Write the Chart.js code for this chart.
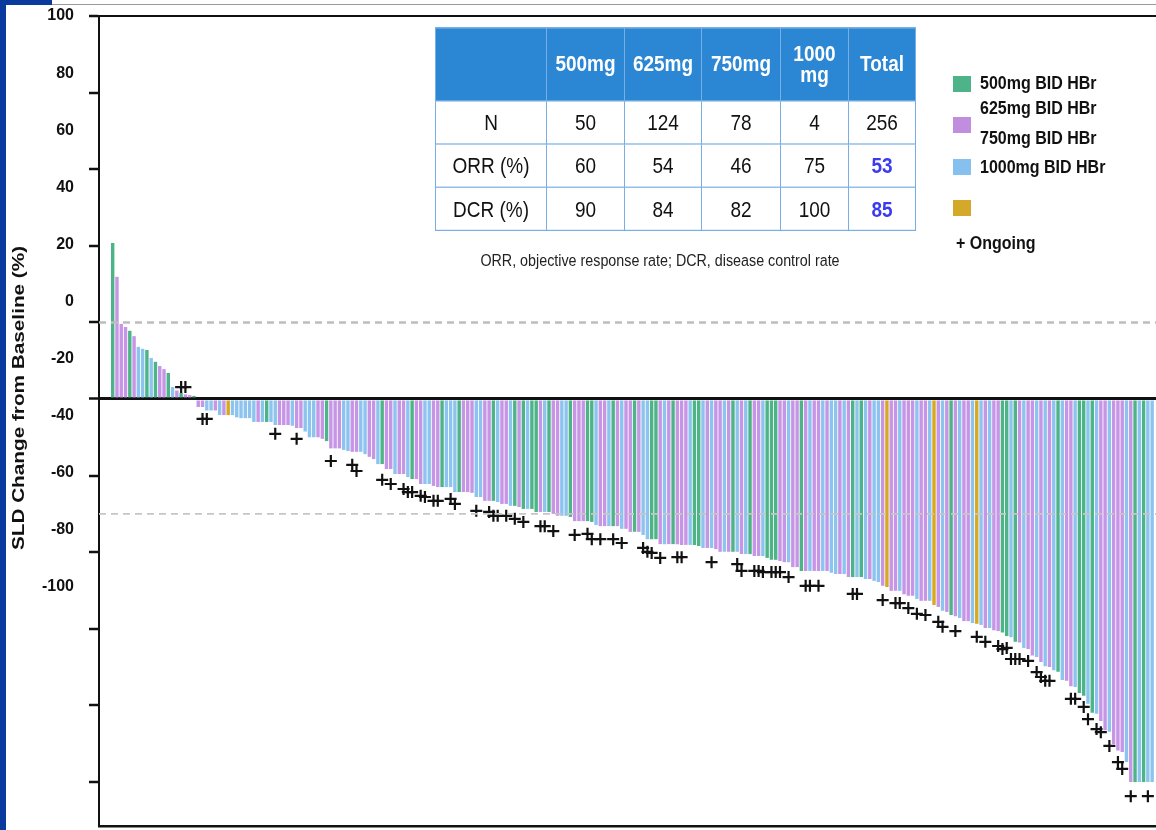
<!DOCTYPE html>
<html>
<head>
<meta charset="utf-8">
<title>SLD change waterfall</title>
<script src="https://cdn.jsdelivr.net/npm/chart.js@4.4.1/dist/chart.umd.min.js"></script>
<style>
    html, body { margin: 0; padding: 0; background: #fff; }
    #wrap {
        position: relative;
        width: 1156px;
        height: 830px;
        overflow: hidden;
        font-family: "Liberation Sans", Arial, Helvetica, sans-serif;
        color: #111;
    }
    #chart { position: absolute; left: 0; top: 0; }
    .frame-left { position: absolute; left: 0; top: 0; width: 6px; height: 830px; background: #0b3a9e; }
    .frame-top { position: absolute; left: 0; top: 0; width: 52px; height: 5px; background: #0b3a9e; }
    .frame-line { position: absolute; left: 52px; top: 4px; right: 0; height: 1px; background: #9a9a9a; }

    #stats {
        position: absolute;
        left: 435px;
        top: 27px;
        width: 480px;
        border-collapse: collapse;
        table-layout: fixed;
        transform: scaleY(1.2);
        transform-origin: 0 0;
    }
    #stats th, #stats td {
        border: 1.5px solid #78aee3;
        text-align: center;
        padding: 0;
        font-size: 19px;
    }
    #stats th {
        background: #2b86d4;
        color: #fff;
        font-weight: bold;
        height: 60px;
        line-height: 18px;
    }
    #stats td { height: 35px; background: #fff; }
    #stats td.total { color: #3a3af0; font-weight: bold; }

    .note {
        position: absolute;
        left: 360px;
        top: 252px;
        width: 600px;
        text-align: center;
        font-size: 14.3px;
        line-height: 16px;
        color: #222;
        transform: scaleY(1.2);
    }

    .swatch { position: absolute; left: 953px; width: 18px; height: 16px; }
    .legend-text {
        position: absolute;
        font-size: 16px;
        font-weight: bold;
        line-height: 16px;
        white-space: nowrap;
        transform: scaleY(1.2);
    }
</style>
</head>
<body>
<div id="wrap">
    <canvas id="chart" width="1156" height="830"></canvas>
    <div class="frame-left"></div>
    <div class="frame-top"></div>
    <div class="frame-line"></div>
    <table id="stats"></table>
    <div class="note">ORR, objective response rate; DCR, disease control rate</div>
    <div id="legend"></div>
</div>
<script>
// best percent change in sum of longest diameters, one bar per patient, sorted
const sldChange = [
    40.7, 31.9, 19.6, 18.8, 17.8, 16.4, 13.6, 13.1, 12.8, 10.7,
    9.7, 8.6, 7.8, 6.8, 3.1, 2.2, 1.6, 1.2, 1.0, 0.8,
    -2.1, -2.1, -3.0, -3.0, -3.0, -4.2, -4.2, -4.2, -4.2, -4.8,
    -5.0, -5.0, -5.0, -6.0, -6.0, -6.0, -6.0, -6.0, -6.8, -6.8,
    -6.8, -6.8, -7.0, -7.6, -7.6, -8.5, -10.0, -10.0, -10.0, -10.4,
    -11.0, -12.9, -12.9, -12.9, -13.3, -13.6, -13.8, -13.8,
    -13.8, -14.4, -15.1, -15.7, -17.0, -17.0, -18.3, -18.3, -19.6, -19.6,
    -19.6, -20.4, -20.9, -20.9, -22.2, -22.2, -22.2, -22.7, -23.0, -23.0,
    -23.0, -23.0, -24.3, -24.3, -24.3, -24.3, -24.5, -25.6, -25.6, -26.6,
    -26.6, -26.6, -26.9, -27.4, -27.4, -27.9, -27.9, -28.2,
    -28.7, -28.7, -28.7, -29.5, -29.5, -29.5, -29.5, -30.0, -30.5, -30.5,
    -30.5, -30.8, -31.9, -31.9, -31.9, -31.9, -32.1, -32.9, -33.2, -33.2,
    -33.2, -33.2, -33.2, -33.9, -33.9, -34.7, -34.7, -34.7, -35.5, -36.6,
    -36.6, -36.6, -37.9, -37.9, -37.9, -37.9, -37.9, -38.1, -38.1, -38.1,
    -38.1, -38.4, -38.9, -38.9, -38.9, -39.2, -39.9, -39.9, -39.9, -39.9,
    -39.9, -40.5, -40.5, -40.5, -41.0, -41.0, -41.0, -41.5, -42.0, -42.0,
    -42.3, -42.6, -42.6, -43.9, -43.9, -44.9, -44.9, -44.9, -44.9, -44.9,
    -44.9, -44.9, -45.4, -45.7, -45.7, -45.7, -46.5, -46.5, -46.5, -46.5,
    -47.0, -47.0, -47.5, -47.8, -48.8, -49.1, -50.1, -50.1, -50.1, -51.0,
    -51.4, -51.4, -52.2, -52.7, -52.7, -52.7, -53.8, -54.3, -55.3, -55.6,
    -56.4, -56.7, -57.2, -58.0, -58.0, -58.5, -58.7, -59.0, -59.8, -59.8,
    -60.4, -60.6, -61.0, -61.9, -62.2, -63.4, -63.6, -65.0, -65.3, -67.0,
    -67.4, -68.7, -69.8, -70.0, -70.8, -71.2, -73.4, -73.6, -75.0, -75.2,
    -76.8, -77.5, -79.6, -81.9, -82.2, -84.1, -86.5, -86.9, -90.1, -91.8,
    -92.2, -94.8, -100, -100, -100, -100, -100, -100,
];

// dose group of each bar: G 500mg, P 625mg, B 750mg, Y 1000mg
const doseCode = (
    'GPPPGPBBGBGPPGBPGPPG' +
    'PPBBPBPYBBBBBBPBGBBPPPBPPBBBPPGPPPBBPP' +
    'BBPPBGPPBPPBGPPBBPPGBBBGPPPBBPPGBPPBGP' +
    'GBGGPBGPPBBGPPPGGBPPBGPBPPGPBBGGPBPGPPPB' +
    'GGBPBPPBPGBPBGPPBGGGPPBPPGPBPPBPBBPBPGBG' +
    'BPBBPYPPBPPPBPPBYPBPGPBPPBYBPBPPGGBGPBPPBPBPBGBPPBGGBGBPPBPPPBPGBGBB'
).split('');

const doseColors = { G: '#4db487', P: '#c795e6', B: '#8cc4ef', Y: '#d6a91f' };

// ongoing patients: bar index and where the "+" sits
const ongoingBar = [
    16, 17, 21, 22, 38, 43, 51, 56, 57, 63, 65, 68, 69, 70, 72, 73, 75, 76, 79, 80,
    85, 88, 89, 90, 92, 94, 96, 100, 101, 103, 108, 111, 112, 114, 117, 119, 124, 125, 126, 128,
    132, 133, 140, 146, 147, 150, 151, 152, 154, 155, 156, 158, 162, 163, 165, 173, 174, 180, 183, 184,
    186, 188, 190, 193, 194, 197, 202, 204, 207, 208, 209, 210, 211, 212, 214, 216, 217, 218, 219, 224,
    225, 227, 228, 230, 231, 233, 235, 236, 238, 242,
];
const ongoingPct = [
    3.1, 3.1, -5.2, -5.2, -9.1, -10.4, -16.2, -17.2, -18.8, -21.1, -22.2, -23.5, -24.3, -24.3, -25.3, -25.6, -26.6, -26.6, -26.1, -27.4,
    -29.2, -29.5, -30.5, -30.5, -30.5, -31.3, -32.1, -33.2, -33.2, -34.5, -35.5, -35.2, -36.6, -36.6, -36.6, -37.6, -38.9, -39.9, -40.2, -41.5,
    -41.3, -41.3, -42.6, -43.1, -44.9, -44.9, -44.9, -45.2, -45.2, -45.2, -45.2, -46.5, -48.8, -48.8, -48.8, -50.9, -50.9, -52.5, -53.3, -53.3,
    -54.6, -56.1, -56.4, -58.2, -59.5, -60.6, -62.1, -63.4, -64.5, -65.3, -65.0, -67.9, -67.9, -67.9, -68.4, -71.3, -72.6, -73.6, -73.6, -78.3,
    -78.3, -80.4, -83.6, -86.2, -87.0, -90.6, -94.8, -96.6, -103.7, -103.7,
];

const yTicks = [100, 80, 60, 40, 20, 0, -20, -40, -60, -80, -100];
const refLines = [20, -30];

const doseHeaders = ['500mg', '625mg', '750mg', '1000<br>mg', 'Total'];
const nRow = [50, 124, 78, 4, 256];
const orrRow = [60, 54, 46, 75, 53];
const dcrRow = [90, 84, 82, 100, 85];

const legendItems = [
    { color: '#4fb389', label: '500mg BID HBr' },
    { color: '#c08ddf', label: '625mg BID HBr' },
    { color: '#86c0ee', label: '750mg BID HBr' },
    { color: '#d4a92a', label: '1000mg BID HBr' },
];

const FONT = '"Liberation Sans", Arial, Helvetica, sans-serif';
const xMin = -3.2;
const xMax = 243.9;

function buildTable() {
    const widths = [111, 78, 77, 79, 68, 67];
    let html = '<colgroup>' + widths.map((w) => `<col style="width:${w}px">`).join('') + '</colgroup>';

    html += '<tr><th></th>' + doseHeaders.map((h) => `<th>${h}</th>`).join('') + '</tr>';

    [['N', nRow], ['ORR (%)', orrRow], ['DCR (%)', dcrRow]].forEach(([name, row]) => {
        html += `<tr><td>${name}</td>`;
        row.forEach((v, k) => {
            const isTotal = k === row.length - 1 && name !== 'N';
            html += `<td${isTotal ? ' class="total"' : ''}>${v}</td>`;
        });
        html += '</tr>';
    });

    document.getElementById('stats').innerHTML = html;
}

function buildLegend() {
    const box = document.getElementById('legend');
    const swatchTops = [76, 117, 159, 200];
    const textCenters = [83, 108, 138, 167];
    let html = '';

    legendItems.forEach((item, k) => {
        html += `<div class="swatch" style="top:${swatchTops[k]}px;background:${item.color}"></div>`;
        html += `<div class="legend-text" style="left:980px;top:${textCenters[k] - 8}px">${item.label}</div>`;
    });

    html += '<div class="legend-text" style="left:956px;top:235px">+ Ongoing</div>';
    box.innerHTML = html;
}

// y-axis title, stretched like the picture
const axisTitle = {
    id: 'axisTitle',
    afterDraw(chart) {
        const { ctx } = chart;

        ctx.save();
        ctx.translate(19, 398);
        ctx.rotate(-Math.PI / 2);
        ctx.scale(1.22, 1);
        ctx.font = `bold 17px ${FONT}`;
        ctx.fillStyle = '#111';
        ctx.textAlign = 'center';
        ctx.textBaseline = 'middle';
        ctx.fillText('SLD Change from Baseline (%)', 0, 0);
        ctx.restore();
    },
};

function renderChart() {
    const refDatasets = refLines.map((v, k) => ({
        type: 'line',
        data: [{ x: xMin, y: v }, { x: xMax, y: v }],
        borderColor: k === 0 ? '#bdbdbd' : '#c6c6c6',
        borderWidth: k === 0 ? 2.5 : 1.6,
        borderDash: [7, 5],
        pointRadius: 0,
        order: 0,
    }));

    new Chart(document.getElementById('chart'), {
        type: 'bar',
        data: {
            datasets: [
                ...refDatasets,
                {
                    type: 'scatter',
                    data: ongoingBar.map((b, k) => ({ x: b, y: ongoingPct[k] })),
                    pointStyle: 'cross',
                    pointRadius: 6,
                    pointBorderWidth: 2.2,
                    borderColor: '#111',
                    pointBorderColor: '#111',
                    order: 1,
                },
                {
                    type: 'bar',
                    data: sldChange.map((v, i) => ({ x: i, y: v })),
                    backgroundColor: doseCode.map((c) => doseColors[c]),
                    borderWidth: 0,
                    barPercentage: 0.8,
                    categoryPercentage: 1,
                    order: 3,
                },
            ],
        },
        options: {
            responsive: false,
            animation: false,
            devicePixelRatio: 1,
            layout: { autoPadding: false, padding: { top: 16, left: 0, right: 0, bottom: 0 } },
            plugins: {
                legend: { display: false },
                tooltip: { enabled: false },
            },
            scales: {
                x: {
                    type: 'linear',
                    min: xMin,
                    max: xMax,
                    offset: false,
                    grid: { drawOnChartArea: false, drawTicks: false, offset: false },
                    border: { display: true, color: '#111', width: 2.5 },
                    ticks: { display: false },
                    afterFit: (s) => { s.height = 4; s.paddingLeft = 0; s.paddingRight = 0; },
                },
                xTop: {
                    type: 'linear',
                    position: 'top',
                    min: xMin,
                    max: xMax,
                    offset: false,
                    grid: { drawOnChartArea: false, drawTicks: false },
                    border: { display: true, color: '#111', width: 2 },
                    ticks: { display: false },
                    afterFit: (s) => { s.height = 0; s.paddingLeft = 0; s.paddingRight = 0; },
                },
                y: {
                    type: 'linear',
                    position: 'left',
                    weight: 0,
                    min: -111.5,
                    max: 100,
                    afterBuildTicks: (s) => { s.ticks = yTicks.map((v) => ({ value: v })); },
                    ticks: { display: false },
                    grid: {
                        drawOnChartArea: true,
                        drawTicks: true,
                        tickLength: 10,
                        tickColor: '#111',
                        tickWidth: 2.5,
                        color: (c) => (c.tick && c.tick.value === 0 ? '#111' : 'rgba(0,0,0,0)'),
                        lineWidth: (c) => (c.tick && c.tick.value === 0 ? 3 : 0),
                    },
                    border: { display: true, color: '#111', width: 2 },
                    afterFit: (s) => { s.width = 10; s.paddingTop = 0; s.paddingBottom = 0; },
                },
                yLabels: {
                    type: 'linear',
                    position: 'left',
                    weight: 1,
                    min: -183.7,
                    max: 100,
                    afterBuildTicks: (s) => { s.ticks = yTicks.map((v) => ({ value: v })); },
                    grid: { display: false, drawTicks: false },
                    border: { display: false },
                    ticks: {
                        padding: 15,
                        color: '#111',
                        font: { family: FONT, size: 16, weight: 'bold' },
                    },
                    afterFit: (s) => { s.width = 89; s.paddingTop = 0; s.paddingBottom = 0; },
                },
            },
        },
        plugins: [axisTitle],
    });
}

buildTable();
buildLegend();
renderChart();
</script>
</body>
</html>
